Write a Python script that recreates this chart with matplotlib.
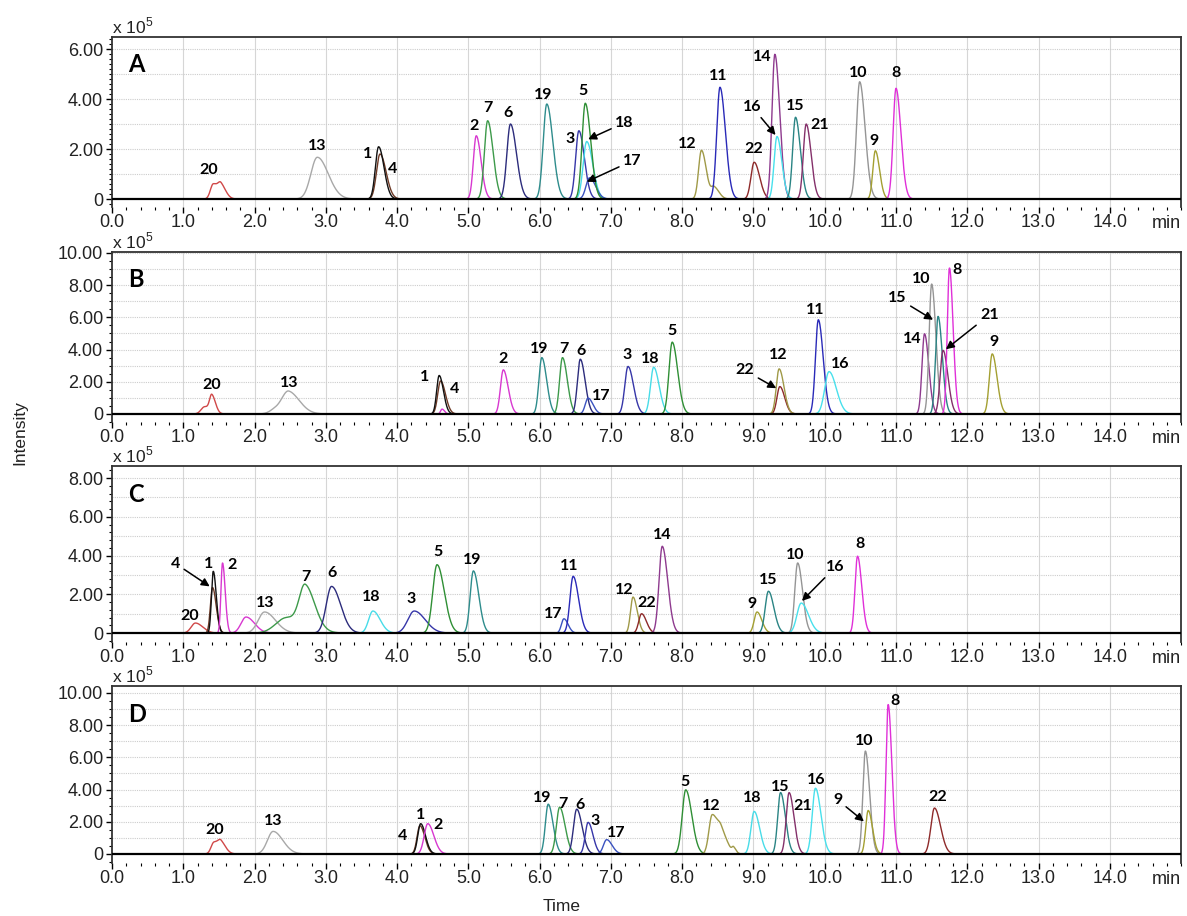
import numpy as np
import matplotlib.pyplot as plt
from matplotlib.ticker import MultipleLocator, FuncFormatter

plt.rcParams['font.family'] = 'Liberation Sans'
plt.rcParams['mathtext.fontset'] = 'custom'
plt.rcParams['mathtext.rm'] = 'Liberation Sans'

#%% colours of each compound trace
col = {'1': '#111111', '2': '#d838d0', '3': '#3636a8', '4': '#6e3a26',
       '5': '#2f8f35', '6': '#2c2c7c', '7': '#3d9a4a', '8': '#e030d8',
       '9': '#a4a032', '10': '#959595', '11': '#2a2ab8', '12': '#a09a48',
       '13': '#a8a8a8', '14': '#8e3a8e', '15': '#2a8484', '16': '#48e0ec',
       '17': '#3a52c0', '18': '#48dce8', '19': '#2e8c8c', '20': '#d04848',
       '21': '#84306a', '22': '#8e2a2a'}

#%% panel A  (rt in min, height x 10^5, sd in min)
a_id = ['20', '20', '13', '4', '1', '2', '7', '6', '19', '3', '18', '17', '5',
        '12', '12', '11', '22', '14', '16', '15', '21', '10', '9', '8']
a_rt = [1.42, 1.53, 2.88, 3.76, 3.74, 5.11, 5.27, 5.59, 6.10, 6.55, 6.66, 6.70, 6.64,
        8.27, 8.45, 8.53, 9.01, 9.30, 9.33, 9.59, 9.74, 10.49, 10.71, 11.00]
a_h = [0.60, 0.50, 1.67, 1.80, 2.09, 2.53, 3.13, 3.00, 3.80, 2.73, 2.30, 0.85, 3.83,
       1.95, 0.45, 4.47, 1.47, 5.79, 2.50, 3.27, 3.00, 4.69, 1.93, 4.43]
a_sd = [0.04, 0.04, 0.09, 0.05, 0.045, 0.04, 0.045, 0.05, 0.05, 0.045, 0.05, 0.05, 0.045,
        0.04, 0.04, 0.045, 0.045, 0.04, 0.04, 0.04, 0.04, 0.045, 0.035, 0.04]

#%% panel B
b_id = ['20', '20', '13', '13', '4', '1', '2', '2', '19', '7', '6', '17', '3', '18', '5',
        '22', '12', '11', '16', '14', '10', '15', '21', '8', '9']
b_rt = [1.30, 1.40, 2.30, 2.48, 4.61, 4.59, 4.63, 5.49, 6.03, 6.32, 6.57, 6.68, 7.24, 7.60, 7.86,
        9.37, 9.36, 9.91, 10.06, 11.40, 11.50, 11.59, 11.66, 11.75, 12.35]
b_h = [0.45, 1.00, 0.30, 1.30, 2.05, 2.39, 0.30, 2.74, 3.50, 3.50, 3.40, 0.98, 2.95, 2.90, 4.46,
       1.70, 2.80, 5.85, 2.63, 4.98, 8.07, 6.06, 3.95, 9.07, 3.73]
b_sd = [0.05, 0.03, 0.08, 0.09, 0.04, 0.035, 0.02, 0.04, 0.04, 0.04, 0.04, 0.04, 0.045, 0.045, 0.045,
        0.04, 0.04, 0.04, 0.06, 0.035, 0.035, 0.035, 0.04, 0.03, 0.04]

#%% panel C
c_id = ['20', '4', '1', '2', '2', '13', '7', '7', '6', '18', '3', '5', '19', '17', '11',
        '12', '22', '14', '9', '15', '10', '16', '8']
c_rt = [1.17, 1.41, 1.42, 1.55, 1.88, 2.14, 2.45, 2.71, 3.08, 3.66, 4.24, 4.56, 5.07, 6.34, 6.47,
        7.31, 7.43, 7.72, 9.05, 9.21, 9.62, 9.67, 10.46]
c_h = [0.52, 2.35, 3.19, 3.62, 0.83, 1.09, 0.80, 2.05, 2.41, 1.14, 1.14, 3.53, 3.21, 0.74, 2.93,
       1.86, 1.00, 4.48, 1.09, 2.16, 3.62, 1.55, 3.97]
c_sd = [0.06, 0.03, 0.025, 0.022, 0.07, 0.09, 0.15, 0.08, 0.075, 0.06, 0.09, 0.06, 0.045, 0.035, 0.045,
        0.035, 0.04, 0.045, 0.04, 0.045, 0.04, 0.06, 0.035]

#%% panel D
d_id = ['20', '20', '13', '4', '1', '2', '19', '7', '6', '3', '17', '5', '12', '12', '12',
        '18', '15', '21', '16', '10', '9', '8', '22']
d_rt = [1.43, 1.53, 2.26, 4.32, 4.33, 4.43, 6.12, 6.28, 6.52, 6.68, 6.94, 8.05, 8.42, 8.55, 8.72,
        9.01, 9.38, 9.50, 9.87, 10.57, 10.61, 10.89, 11.54]
d_h = [0.72, 0.62, 1.40, 1.75, 1.88, 1.88, 3.09, 2.90, 2.78, 1.96, 0.89, 3.98, 2.40, 1.20, 0.30,
       2.64, 3.81, 3.81, 4.08, 6.39, 2.70, 9.28, 2.85]
d_sd = [0.04, 0.04, 0.08, 0.04, 0.04, 0.05, 0.04, 0.045, 0.045, 0.04, 0.045, 0.05, 0.045, 0.05, 0.02,
        0.045, 0.04, 0.04, 0.045, 0.035, 0.035, 0.03, 0.05]

#%% peak labels: text position (min, x10^5) and arrow tip where there is one
a_lab = {'20': (1.36, 1.16), '13': (2.88, 2.13), '1': (3.59, 1.80), '4': (3.94, 1.19),
         '2': (5.08, 2.92), '7': (5.27, 3.63), '6': (5.56, 3.43), '19': (6.05, 4.16),
         '3': (6.43, 2.39), '5': (6.61, 4.33), '18': (7.19, 3.05), '17': (7.30, 1.53),
         '12': (8.07, 2.20), '11': (8.50, 4.92), '22': (9.00, 1.99), '14': (9.13, 5.69),
         '16': (8.98, 3.69), '15': (9.58, 3.72), '21': (9.93, 2.96), '10': (10.47, 5.03),
         '9': (10.69, 2.32), '8': (11.00, 5.03)}
a_arr = {'18': (6.68, 2.39), '17': (6.66, 0.69), '16': (9.31, 2.56)}

b_lab = {'20': (1.40, 1.80), '13': (2.49, 1.91), '1': (4.39, 2.28), '4': (4.81, 1.56),
         '2': (5.49, 3.40), '19': (6.00, 4.02), '7': (6.34, 4.02), '6': (6.58, 3.88),
         '17': (6.87, 1.12), '3': (7.23, 3.67), '18': (7.55, 3.40), '5': (7.85, 5.17),
         '22': (8.88, 2.70), '12': (9.35, 3.67), '11': (9.86, 6.47), '16': (10.22, 3.11),
         '10': (11.35, 8.40), '15': (11.02, 7.20), '14': (11.23, 4.67), '8': (11.86, 8.96),
         '21': (12.31, 6.16), '9': (12.37, 4.46)}
b_arr = {'22': (9.32, 1.60), '15': (11.52, 5.85), '21': (11.70, 4.02)}

c_lab = {'20': (1.09, 0.88), '4': (0.89, 3.59), '1': (1.36, 3.59), '2': (1.68, 3.53),
         '13': (2.15, 1.57), '7': (2.72, 2.90), '6': (3.08, 3.10), '18': (3.63, 1.86),
         '3': (4.19, 1.78), '5': (4.57, 4.16), '19': (5.06, 3.79), '17': (6.19, 0.97),
         '11': (6.42, 3.45), '12': (7.19, 2.21), '22': (7.50, 1.55), '14': (7.72, 5.05),
         '9': (8.98, 1.52), '15': (9.21, 2.76), '10': (9.58, 4.05), '16': (10.15, 3.41),
         '8': (10.49, 4.62)}
c_arr = {'4': (1.37, 2.41), '16': (9.68, 1.66)}

d_lab = {'20': (1.44, 1.46), '13': (2.26, 2.02), '4': (4.07, 1.09), '1': (4.33, 2.43),
         '2': (4.58, 1.81), '19': (6.03, 3.46), '7': (6.33, 3.09), '6': (6.56, 3.05),
         '3': (6.78, 2.02), '17': (7.07, 1.30), '5': (8.04, 4.49), '12': (8.41, 2.99),
         '18': (8.98, 3.46), '15': (9.37, 4.14), '21': (9.69, 2.99), '16': (9.88, 4.60),
         '9': (10.18, 3.36), '10': (10.55, 7.00), '8': (10.99, 9.50), '22': (11.58, 3.53)}
d_arr = {'9': (10.55, 2.02)}

paneles = [('A', a_id, a_rt, a_h, a_sd, a_lab, a_arr, (-0.32, 6.48), 0.2),
           ('B', b_id, b_rt, b_h, b_sd, b_lab, b_arr, (-0.50, 10.06), 0.5),
           ('C', c_id, c_rt, c_h, c_sd, c_lab, c_arr, (-0.46, 8.62), 0.4),
           ('D', d_id, d_rt, d_h, d_sd, d_lab, d_arr, (-0.56, 10.43), 0.5)]

# axes boxes in figure fraction (left, bottom, width, height)
cajas = [(0.0944, 0.774, 0.9006, 0.1856),
         (0.0944, 0.5393, 0.9006, 0.1856),
         (0.0944, 0.2991, 0.9006, 0.1921),
         (0.0944, 0.0579, 0.9006, 0.1932)]

t = np.linspace(0, 15, 4000)
TAIL = 1.7


def pico(rt, h, sd):
    s = np.where(t < rt, sd, sd * TAIL)
    return h * np.exp(-0.5 * ((t - rt) / s) ** 2)


fig = plt.figure(figsize=(11.87, 9.16), dpi=100)
lab_font = dict(family='Lato', weight='bold', size=11.5)

for (letra, ids, rts, hs, sds, labs, arrs, ylim, minor), caja in zip(paneles, cajas):
    ax = fig.add_axes(caja)
    # sum components per compound, keep first-appearance order
    orden = []
    for i in ids:
        if i not in orden:
            orden.append(i)
    for comp in orden:
        y = np.zeros_like(t)
        for i, rt, h, sd in zip(ids, rts, hs, sds):
            if i == comp:
                y += pico(rt, h, sd)
        ax.plot(t, y, color=col[comp], lw=1.0, zorder=2)
    ax.axhline(0, color='black', lw=1.6, zorder=3)

    for txt, (x, yv) in labs.items():
        if txt in arrs:
            ax.annotate(txt, xy=arrs[txt], xytext=(x, yv), ha='center', va='center',
                        zorder=5, **lab_font,
                        arrowprops=dict(arrowstyle='-|>', color='black', lw=1.1,
                                        mutation_scale=12, shrinkA=1, shrinkB=0))
        else:
            ax.text(x, yv, txt, ha='center', va='center', zorder=5, **lab_font)

    ax.text(0.015, 0.84, letra, transform=ax.transAxes, ha='left', va='center',
            family='Lato', weight='bold', size=17)
    ax.text(0.0, 1.004, r'x 10$^{5}$', transform=ax.transAxes, ha='left', va='bottom',
            size=12.5, color='#222222')

    ax.set_xlim(0, 15.0)
    ax.set_ylim(*ylim)
    ax.set_xticks(np.arange(0, 15, 1.0))
    ax.set_xticklabels(['%.1f' % v for v in np.arange(0, 15, 1.0)])
    ax.xaxis.set_minor_locator(MultipleLocator(0.2))
    ax.yaxis.set_major_locator(MultipleLocator(2))
    ax.yaxis.set_minor_locator(MultipleLocator(minor))
    ax.yaxis.set_major_formatter(FuncFormatter(lambda v, p: '0' if abs(v) < 1e-9 else '%.2f' % v))
    ax.annotate('min', xy=(14.8, 0), xycoords=ax.get_xaxis_transform(), xytext=(0, -5.5),
                textcoords='offset points', ha='center', va='top', size=13, color='#222222')

    for g in range(1, 15):
        ax.axvline(g, color='#d6d6d6', lw=0.8, zorder=0)
    for g in range(1, int(ylim[1]) + 1):
        ax.axhline(g, color='#cccccc', lw=0.8, ls=(0, (1, 1)), zorder=0)

    ax.tick_params(axis='both', which='major', direction='out', length=4.5, width=1,
                   labelsize=13, labelcolor='#222222', pad=2)
    ax.tick_params(axis='x', which='major', pad=0.5)
    ax.tick_params(axis='both', which='minor', direction='out', length=2.5, width=0.8)
    ax.spines['bottom'].set_visible(False)
    for s in ['top', 'left', 'right']:
        ax.spines[s].set_color('#333333')
        ax.spines[s].set_linewidth(1.3)

fig.text(0.017, 0.528, 'Intensity', rotation=90, ha='center', va='center', size=12.5,
         color='#222222')
fig.text(0.473, 0.01, 'Time', ha='center', va='center', size=12.5, color='#222222')

fig.savefig('out.png', dpi=100)
